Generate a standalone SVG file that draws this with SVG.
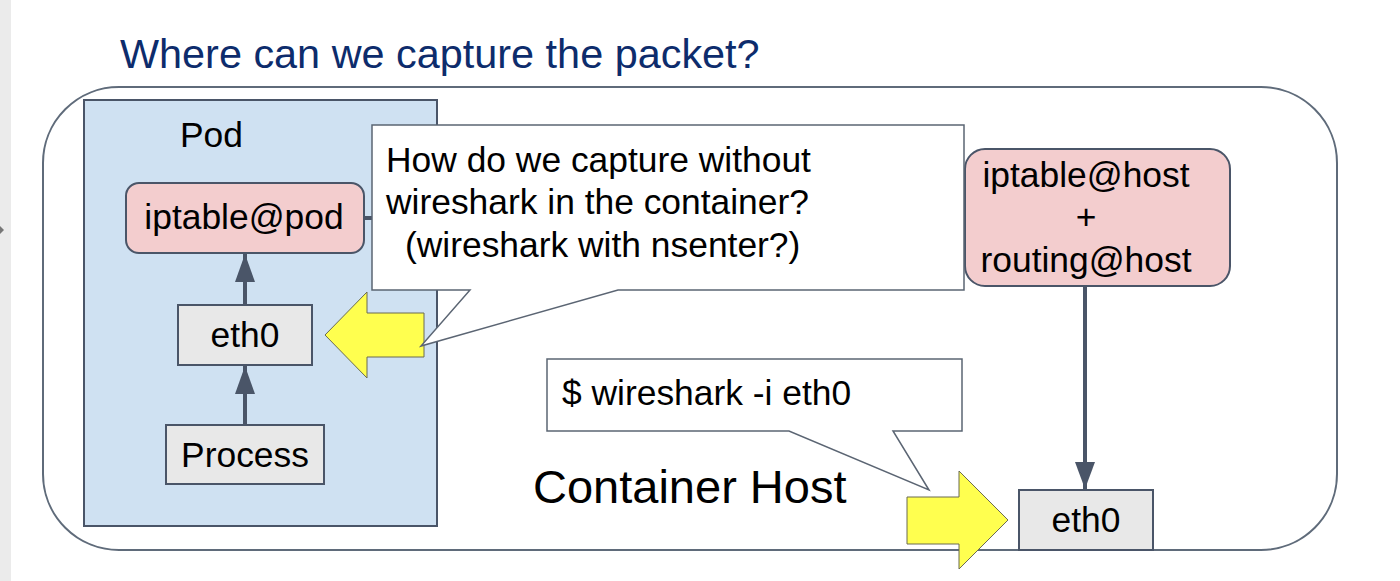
<svg xmlns="http://www.w3.org/2000/svg" width="1400" height="581" viewBox="0 0 1400 581">
<style>
text{font-family:"Liberation Sans",Arial,sans-serif;fill:#000;}
.lbl{font-size:35.4px;}
.box{stroke:#4a5568;stroke-width:2;}
.gray{fill:#e8e8e8;}
.pink{fill:#f3cdce;}
.call{fill:#fff;stroke:#5b6573;stroke-width:1.5;}
.yel{fill:#ffff4f;stroke:#6b6b50;stroke-width:1;}
</style>
<rect x="0" y="0" width="1400" height="581" fill="#fff"/>
<rect x="0" y="0" width="11" height="581" fill="#ebebeb"/>
<path d="M0,226 L4,230 L0,234 Z" fill="#777"/>
<text x="120" y="68" font-size="41.4" style="fill:#0d2c6c">Where can we capture the packet?</text>
<g id="container-host">
<rect x="43" y="87" width="1294" height="463" rx="76" ry="76" fill="none" stroke="#5f6b7a" stroke-width="2"/>
<text x="533" y="503" font-size="47">Container Host</text>
</g>
<g id="pod">
<rect x="84" y="100" width="353" height="426" fill="#cfe1f2" class="box"/>
<text x="180" y="147" class="lbl">Pod</text>
</g>
<g id="connectors">
<line x1="364" y1="218" x2="965" y2="218" stroke="#4a5568" stroke-width="4"/>
<line x1="245" y1="305" x2="245" y2="254" stroke="#4a5568" stroke-width="4"/>
<path d="M235,282 L245,254 L255,282 Z" fill="#4a5568"/>
<line x1="245" y1="425" x2="245" y2="366" stroke="#4a5568" stroke-width="4"/>
<path d="M235,394 L245,366 L255,394 Z" fill="#4a5568"/>
<line x1="1085" y1="286" x2="1085" y2="489" stroke="#4a5568" stroke-width="4"/>
<path d="M1075,462 L1085,489 L1095,462 Z" fill="#4a5568"/>
</g>
<g id="iptable-pod">
<rect x="126" y="183" width="238" height="70" rx="13" class="box pink"/>
<text x="244" y="229" text-anchor="middle" class="lbl">iptable@pod</text>
</g>
<g id="eth0-pod">
<rect x="178" y="305" width="134" height="60" class="box gray"/>
<text x="245" y="347" text-anchor="middle" class="lbl">eth0</text>
</g>
<g id="process">
<rect x="166" y="425" width="158" height="59" class="box gray"/>
<text x="245" y="467" text-anchor="middle" class="lbl">Process</text>
</g>
<g id="iptable-host">
<rect x="965" y="149" width="265" height="137" rx="20" class="box pink"/>
<text x="1086" y="187" text-anchor="middle" class="lbl">iptable@host</text>
<text x="1086" y="229" text-anchor="middle" class="lbl">+</text>
<text x="1086" y="272" text-anchor="middle" class="lbl">routing@host</text>
</g>
<g id="yellow-arrow-pod">
<path d="M325,335 L367,292 L367,313 L424,313 L424,357 L367,357 L367,378 Z" class="yel"/>
</g>
<g id="callout-pod">
<path d="M372,125 L964,125 L964,290 L618,290 L421,346 L470,290 L372,290 Z" class="call"/>
<text x="386" y="172" class="lbl">How do we capture without</text>
<text x="386" y="214" class="lbl">wireshark in the container?</text>
<text x="405" y="257" class="lbl">(wireshark with nsenter?)</text>
</g>
<g id="eth0-host">
<rect x="1019" y="490" width="134" height="60" class="box gray"/>
<text x="1086" y="532" text-anchor="middle" class="lbl">eth0</text>
</g>
<g id="yellow-arrow-host">
<path d="M907,497 L959,497 L959,471 L1008,520 L959,569 L959,544 L907,544 Z" class="yel"/>
</g>
<g id="callout-host">
<path d="M547,359 L962,359 L962,431 L893,431 L929,490 L789,431 L547,431 Z" class="call"/>
<text x="562" y="405" class="lbl">$ wireshark -i eth0</text>
</g>
</svg>
